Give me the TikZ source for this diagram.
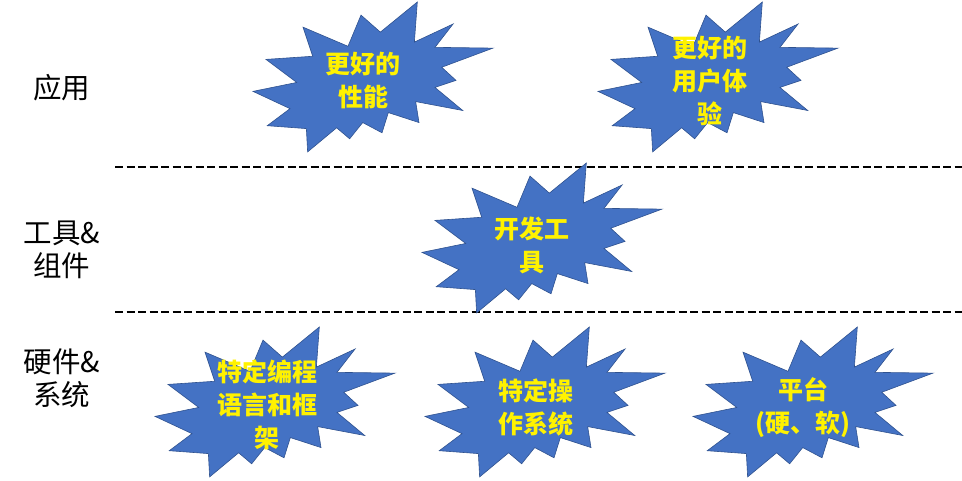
\documentclass[tikz,border=0pt]{standalone}
\usepackage{fontspec}
\newfontfamily\cjk{Noto Sans CJK SC}
\usepackage{tikz}
\usetikzlibrary{positioning}
\definecolor{burstblue}{HTML}{4472C4}
\definecolor{burstedge}{HTML}{2F528F}

\begin{document}
\begin{tikzpicture}[x=1pt, y=-1pt,
    layer/.style={font=\cjk\fontsize{28.5}{33}\selectfont, align=center},
    burstlabel/.style={font=\cjk\bfseries\fontsize{25}{33}\selectfont, text=yellow, align=center},
    divider/.style={line width=1.5pt, dash pattern=on 8pt off 3.5pt},
    burstsize/.style={xscale=1.111, yscale=0.694},
    burst/.pic={
      \filldraw[fill=burstblue, draw=burstedge, line width=0.6pt]
        (114.62,43.42) -- (147.90,0) -- (145.25,57.77) -- (180.07,31.72) --
        (163.80,65.32) -- (216,66.45) -- (169.85,94.02) -- (182.70,112.90) --
        (163.80,123.10) -- (188.77,156.32) -- (146.40,143.50) -- (149.42,173.70) --
        (121.80,159.35) -- (116.12,188.42) -- (98.72,173.70) -- (87.00,197.12) --
        (75.27,181.25) -- (49.17,216) -- (48.05,182.40) -- (12.85,178.25) --
        (33.30,153.70) -- (0,128.77) -- (39.35,115.92) -- (11.72,82.70) --
        (53.72,78.17) -- (45.02,36.25) -- (85.50,63.82) -- (97.22,18.87) -- cycle;
    }]
  \useasboundingbox (0,0) rectangle (962,480);

  % Layer names
  \node[layer] (app) at (62,88) {应用};
  \node[layer] (tools) at (62,250) {工具\&\\组件};
  \node[layer] (hw) at (62,378) {硬件\&\\系统};

  % Layer borders
  \coordinate (top-l) at (115,167);
  \coordinate (top-r) at (962,167);
  \coordinate (bot-l) at (115,312);
  \coordinate (bot-r) at (962,312);
  \draw[divider] (top-l) -- (top-r);
  \draw[divider] (bot-l) -- (bot-r);

  % Application layer
  \pic[burstsize] at (253,2) {burst};
  \node[burstlabel] (perf) at (363,80) {更好的\\性能};
  \pic[burstsize] at (598,2) {burst};
  \node[burstlabel] (ux) at (710,81) {更好的\\用户体\\验};

  % Tools layer
  \pic[burstsize] at (422,163) {burst};
  \node[burstlabel] (devtool) at (532,245) {开发工\\具};

  % Hardware layer
  \pic[burstsize] at (155,327) {burst};
  \node[burstlabel] (lang) at (267,405) {特定编程\\语言和框\\架};
  \pic[burstsize] at (425,327) {burst};
  \node[burstlabel] (os) at (536,407) {特定操\\作系统};
  \pic[burstsize] at (693,327) {burst};
  \node[burstlabel] (plat) at (803,408) {平台\\(硬、软)};
\end{tikzpicture}
\end{document}
